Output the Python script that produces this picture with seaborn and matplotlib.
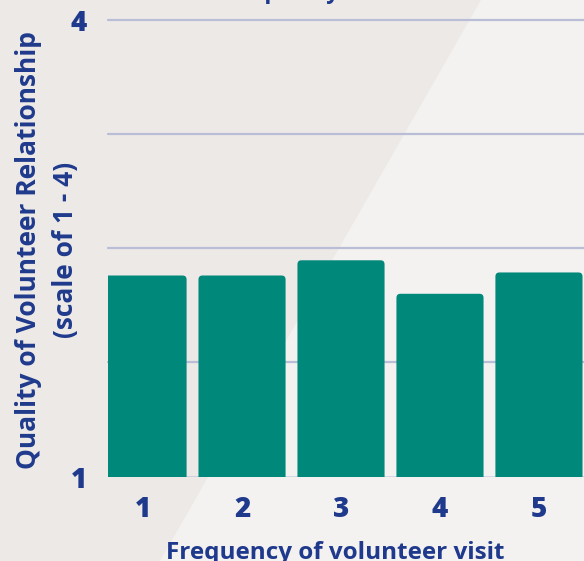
import matplotlib
matplotlib.use("Agg")
import matplotlib.pyplot as plt
from matplotlib.patches import Polygon, FancyBboxPatch
import seaborn as sns
import pandas as pd

# Mean relationship quality by how often the volunteer visits
visit_frequency = ["1", "2", "3", "4", "5"]
relationship_quality = [2.32, 2.32, 2.42, 2.20, 2.34]
y_ticks = [1, 4]
grid_levels = [1.75, 2.5, 3.25, 4]

NAVY = "#1f3a8c"
TEAL = "#00887a"
BG_DARK = "#ece9e6"
BG_LIGHT = "#f3f2f0"
GRID = "#b9bdd5"

sns.set_theme(style="white")
plt.rcParams["font.family"] = ["Open Sans", "DejaVu Sans"]

df = pd.DataFrame({"visit": visit_frequency, "quality": relationship_quality})

W, H = 584, 561
fig = plt.figure(figsize=(W / 100, H / 100), dpi=100, facecolor=BG_DARK)

# lighter diagonal band on the right side of the background
band = Polygon([(481 / W, 1), (1, 1), (1, 0), (160 / W, 0)], closed=True,
               transform=fig.transFigure, facecolor=BG_LIGHT, edgecolor="none")
band.set_zorder(-10)
fig.add_artist(band)

ax = fig.add_axes([108 / W, 1 - 476.5 / H, 476 / W, (476.5 - 19.7) / H])
ax.set_facecolor("none")
ax.set_zorder(1)

sns.barplot(data=df, x="visit", y="quality", color=TEAL, saturation=1,
            width=0.88, ax=ax, zorder=3)

ax.set_xlim(-0.354, 4.455)
ax.set_ylim(1, 4)

# swap the square bars for ones with softly rounded top corners
px_x = 476 / (4.455 + 0.354)
px_y = (476.5 - 19.7) / 3
for p in list(ax.patches):
    x0, y0 = p.get_x(), p.get_y()
    w, h = p.get_width(), p.get_height()
    r = 4 / px_x
    rounded = FancyBboxPatch((x0, y0), w, h,
                             boxstyle=f"round,pad=0,rounding_size={r}",
                             mutation_aspect=px_x / px_y,
                             facecolor=TEAL, edgecolor="none", zorder=3)
    p.remove()
    ax.add_patch(rounded)

for g in grid_levels:
    ax.axhline(g, color=GRID, lw=1.6, zorder=1, clip_on=False)
ax.axhline(1, color="#5d6ab5", lw=1.0, zorder=1)

for s in ax.spines.values():
    s.set_visible(False)

ax.set_yticks(y_ticks)
ax.set_yticklabels([str(t) for t in y_ticks])
ax.tick_params(axis="both", length=0, labelsize=20, labelcolor=NAVY)
ax.tick_params(axis="y", pad=15)
ax.tick_params(axis="x", pad=13)
for lbl in ax.get_xticklabels() + ax.get_yticklabels():
    lbl.set_fontweight("heavy")

ax.set_xlabel("Frequency of volunteer visit", fontsize=17.5, fontweight="bold",
              color=NAVY)
ax.xaxis.set_label_coords((335 - 108) / 476, -(559 - 476.5) / (476.5 - 19.7))
ax.xaxis.label.set_va("baseline")
ax.set_ylabel("Quality of Volunteer Relationship\n(scale of 1 - 4)", fontsize=19,
              fontweight="bold", color=NAVY, linespacing=1.5)
ax.yaxis.set_label_coords(-0.06, 0.495)

# chart title, sitting mostly above the visible canvas
fig.text(253 / W, 1 + 2 / H, "Relationship Quality and\nVisit Frequency", ha="center",
         va="baseline", fontsize=16.3, fontweight="bold", color=NAVY)

fig.savefig("out.png", dpi=100, facecolor=BG_DARK)
